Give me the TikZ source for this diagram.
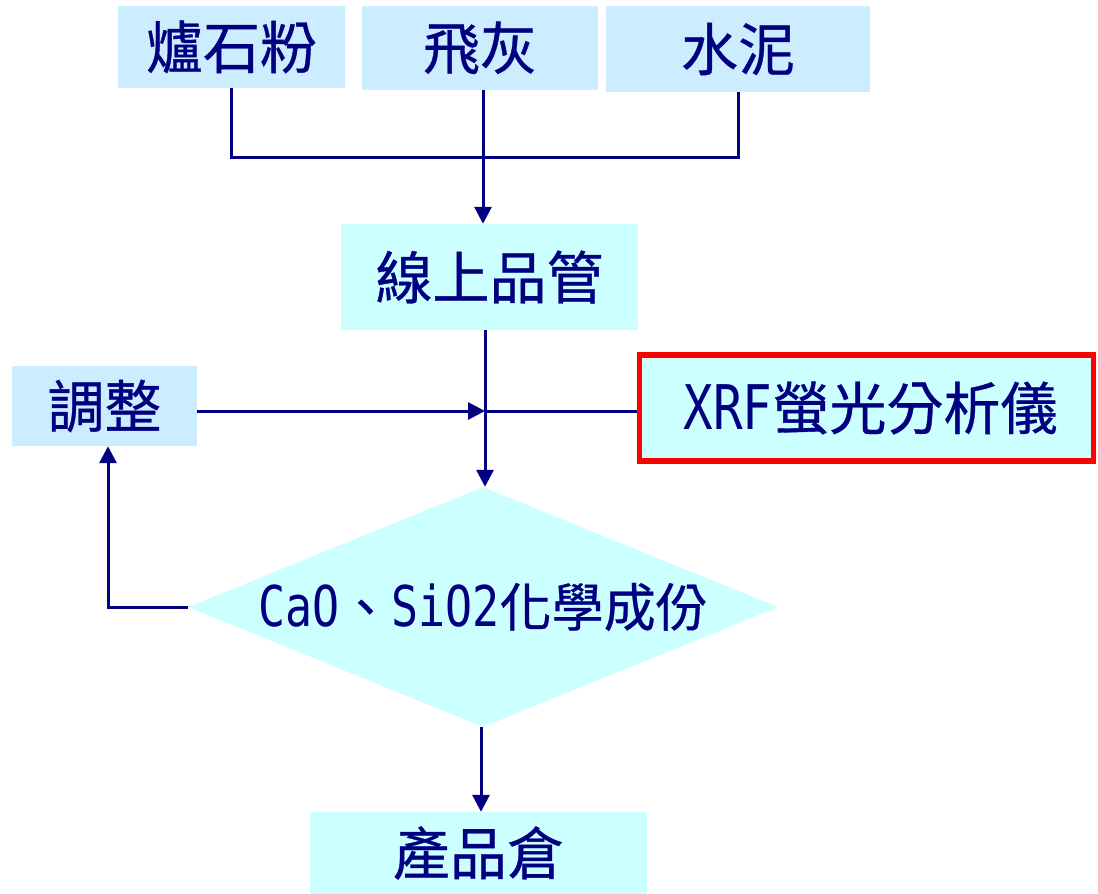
\documentclass[tikz,border=0pt]{standalone}
\usepackage{fontspec}
\usetikzlibrary{arrows.meta,shapes.geometric}
\newfontfamily\cjk{Noto Sans CJK TC}[FakeBold=0.6]
\newfontfamily\lat{DejaVu Sans Mono}[FakeStretch=0.8,Scale=1.08]
\definecolor{navy}{RGB}{0,0,128}
\definecolor{boxblue}{RGB}{204,236,255}
\definecolor{boxcyan}{RGB}{204,255,255}
\begin{document}
\begin{tikzpicture}[x=1pt,y=-1pt,
  every node/.style={text=navy,font=\cjk\fontsize{57}{60}\selectfont,inner sep=0pt},
  bluebox/.style={rectangle,fill=boxblue,draw=none},
  cyanbox/.style={rectangle,fill=boxcyan,draw=none},
  conn/.style={draw=navy,line width=3pt},
  arr/.style={conn,-{Triangle[width=17pt,length=17pt]}}]
\useasboundingbox (0,0) rectangle (1098,894);
% nodes
\node[bluebox,minimum width=227pt,minimum height=82pt] (lu) at (231.5,47) {爐石粉};
\node[bluebox,minimum width=236pt,minimum height=84pt] (fh) at (480,48) {飛灰};
\node[bluebox,minimum width=264pt,minimum height=86pt] (sn) at (738,49) {水泥};
\node[cyanbox,minimum width=297pt,minimum height=106pt] (qc) at (489.5,277) {線上品管};
\node[bluebox,minimum width=185pt,minimum height=80pt] (tz) at (104.5,406) {調整};
\node[cyanbox,draw=red,line width=5.5pt,minimum width=454pt,minimum height=106pt] (xrf) at (866.5,408)
  {\hspace*{8pt}{\lat XRF}螢光分析儀};
\node[diamond,aspect=2.458,fill=boxcyan,minimum width=590pt,minimum height=240pt] (dia) at (483,607)
  {\makebox[0pt]{\fontsize{52}{56}\selectfont{\lat CaO}、{\lat SiO2}化學成份}};
\node[cyanbox,minimum width=337pt,minimum height=82pt] (cp) at (478.5,853) {產品倉};
% junction coordinates
\coordinate (j) at (483,157);
\coordinate (m) at (485,411);
% connectors
\draw[conn] (lu.south) |- (j) -| (sn.south);
\draw[arr] (j |- fh.south) -- (j |- qc.north);
\draw[arr] (m |- qc.south) -- (m |- dia.north);
\draw[arr] (tz.east |- m) -- (m);
\draw[conn] (xrf.west |- m) -- (m);
\draw[arr] (dia.west) -| ([xshift=3.5pt]tz.south);
\draw[arr] ([xshift=-2pt]dia.south) -- ([xshift=2.5pt]cp.north);
\end{tikzpicture}
\end{document}
